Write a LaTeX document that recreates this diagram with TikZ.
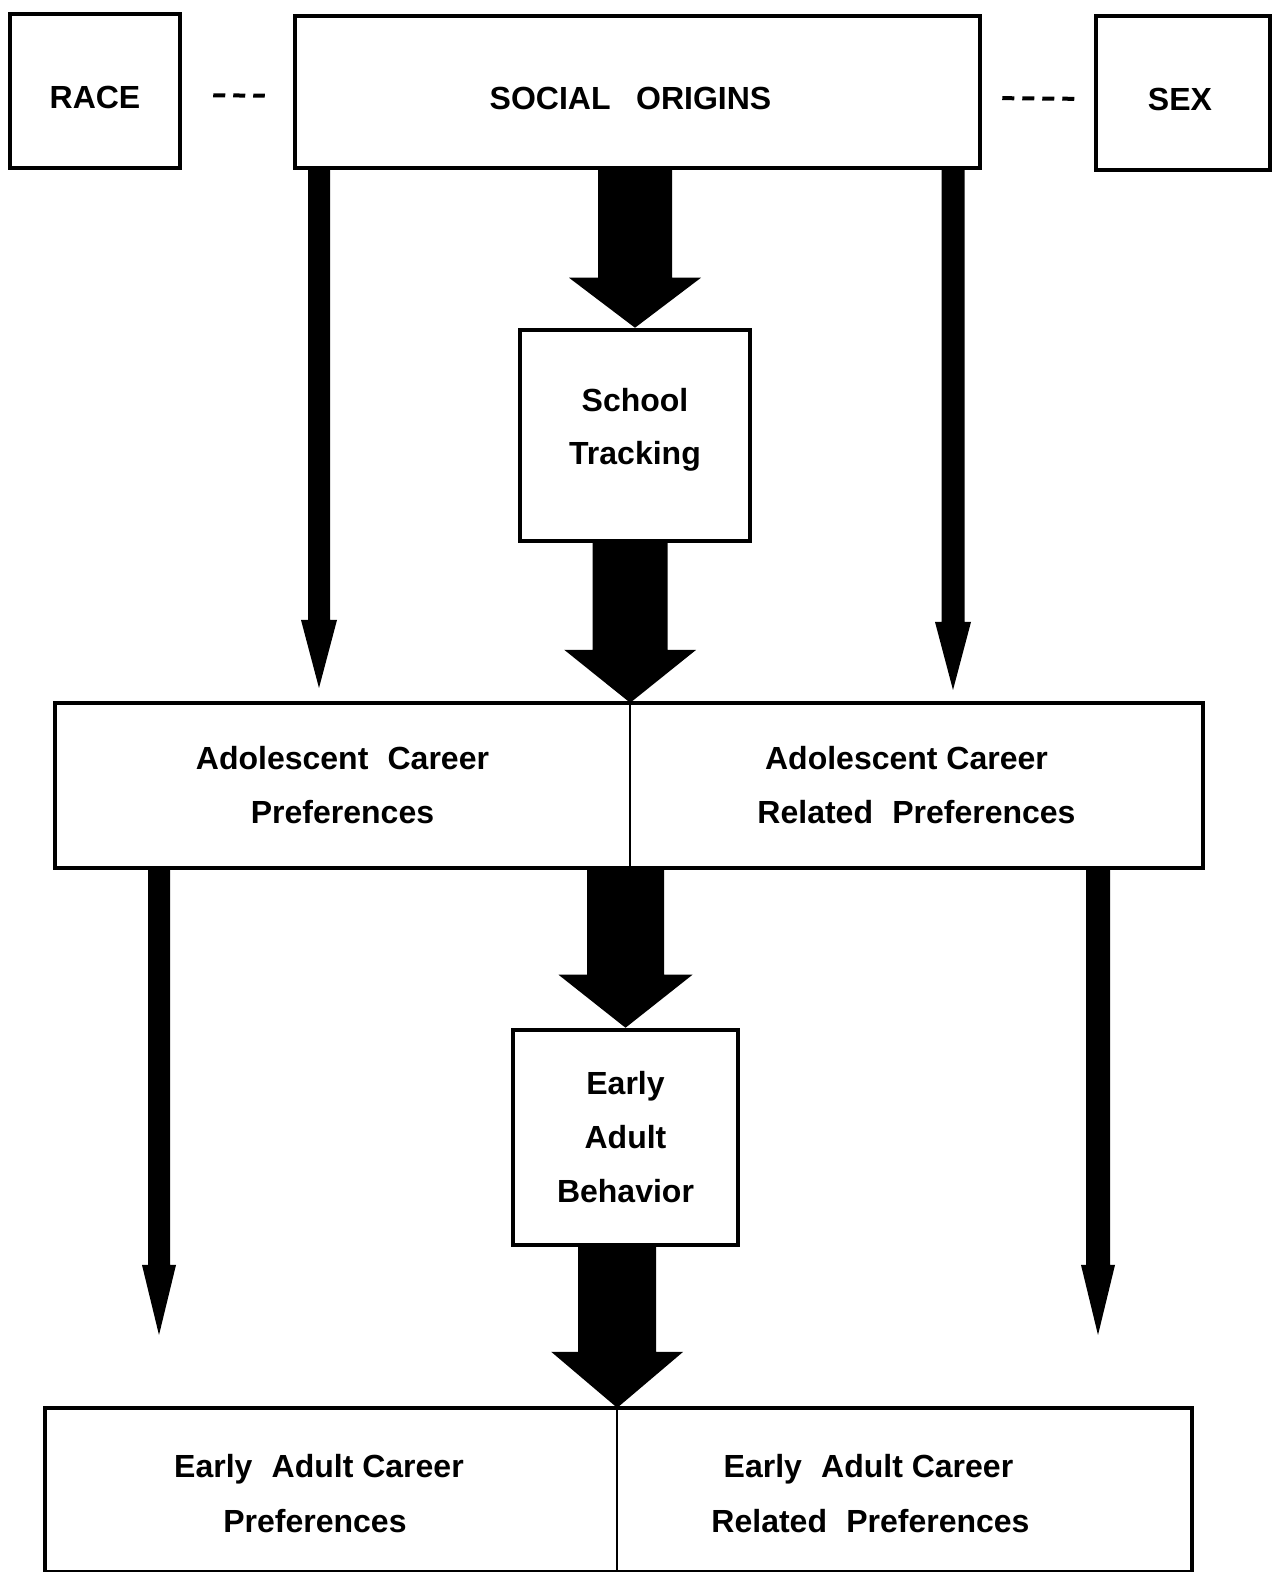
\documentclass[tikz,border=0pt]{standalone}
\usepackage{fontspec}
\setmainfont{Liberation Sans}
\usetikzlibrary{calc}
\newcommand\blockarrow[5]{%
  \fill let \p1=(#1), \p2=(#2) in
    (\x2-#3,\y1) -- (\x2+#3,\y1) -- (\x2+#3,\y2+#5) -- (\x2+#4,\y2+#5) --
    (\x2,\y2) -- (\x2-#4,\y2+#5) -- (\x2-#3,\y2+#5) -- cycle;}
\newcommand\shiftline[2]{\raisebox{#1}[\height][\depth]{#2}}
\begin{document}
\begin{tikzpicture}[x=1pt,y=1pt,
  lbl/.style={inner sep=0pt, align=center, font=\fontsize{32}{54}\selectfont\bfseries},
  box/.style={lbl, draw, line width=4.5pt},
  dashline/.style={line width=4pt, dash pattern=on 12pt off 8pt}]
\useasboundingbox (0,0) rectangle (1276,1572);
\fill[white] (0,0) rectangle (1276,1572);

% top row
\node[box, minimum width=170pt, minimum height=154pt] (race) at (95,1481) {\shiftline{-6pt}{RACE}};
\node[box, minimum width=685pt, minimum height=152pt] (so) at (637.5,1480) {\shiftline{-6pt}{SOCIAL\hspace{0.8em}ORIGINS}\hspace{14pt}};
\node[box, minimum width=174pt, minimum height=154pt] (sex) at (1183,1479) {\shiftline{-7pt}{SEX}\hspace{6pt}};

\draw[dashline, shorten <=31pt, shorten >=28pt] ([yshift=-4pt]race.east) -- ([yshift=-4pt]so.west);
\draw[dashline, shorten <=20pt, shorten >=19pt] ([yshift=-6pt]so.east) -- ([yshift=-6pt]sex.west);

% school tracking
\node[box, minimum width=230pt, minimum height=211pt] (st) at (635,1136.5) {\shiftline{5pt}{School}\\\shiftline{6pt}{Tracking}};

% adolescent preferences
\node[lbl, minimum width=575pt, minimum height=165pt] (acl) at (342.5,786.5) {Adolescent\hspace{0.6em}Career\\Preferences};
\node[lbl, minimum width=573pt, minimum height=165pt] (acr) at (916.5,786.5) {Adolescent Career\hspace*{20pt}\\Related\hspace{0.6em}Preferences};
\draw[line width=4.5pt] (acl.north west) rectangle (acr.south east);
\draw[line width=2pt] (acl.north east) -- (acl.south east);

% early adult behavior
\node[box, minimum width=225pt, minimum height=215pt] (eab) at (625.5,434.5) {Early\\Adult\\Behavior};

% early adult preferences
\node[lbl, minimum width=572pt, minimum height=164pt] (ebl) at (331,82) {\shiftline{-3pt}{Early\hspace{0.6em}Adult Career}\hspace*{24pt}\\\shiftline{-4pt}{Preferences}\hspace*{32pt}};
\node[lbl, minimum width=575pt, minimum height=164pt] (ebr) at (904.5,82) {\shiftline{-3pt}{Early\hspace{0.6em}Adult Career}\hspace*{72pt}\\\shiftline{-4pt}{Related\hspace{0.6em}Preferences}\hspace*{68pt}};
\draw[line width=4.5pt] (ebl.north west) rectangle (ebr.south east);
\draw[line width=2pt] (ebl.north east) -- (ebl.south east);

% free ends of the thin arrows
\coordinate (t1) at (319,884);
\coordinate (t2) at (953,882);
\coordinate (t3) at (159,237);
\coordinate (t4) at (1098,237);

% block arrows
\blockarrow{so.south}{st.north}{37pt}{66pt}{50pt}
\blockarrow{st.south}{acl.north east}{37.5pt}{66pt}{53pt}
\blockarrow{acl.south east}{eab.north}{38.5pt}{67pt}{53pt}
\blockarrow{eab.south}{ebl.north east}{39pt}{66pt}{56pt}

% thin arrows
\blockarrow{so.south -| t1}{t1}{11pt}{18pt}{68pt}
\blockarrow{so.south -| t2}{t2}{11.5pt}{18pt}{68pt}
\blockarrow{acl.south -| t3}{t3}{11pt}{17pt}{70pt}
\blockarrow{acr.south -| t4}{t4}{12pt}{17pt}{70pt}
\end{tikzpicture}
\end{document}
